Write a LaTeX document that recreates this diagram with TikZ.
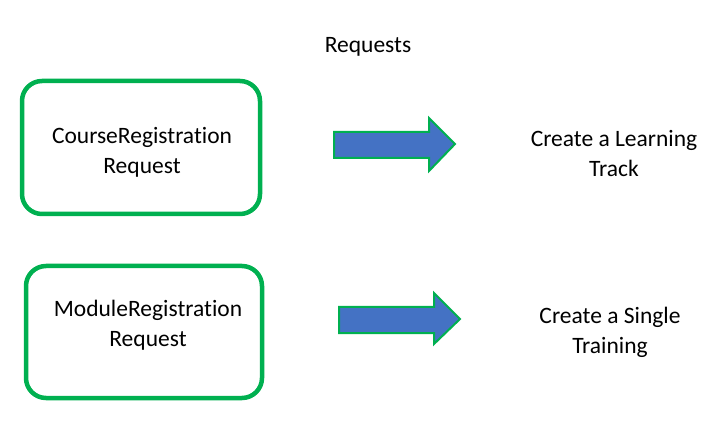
\documentclass[tikz,border=0pt]{standalone}
\usepackage{fontspec}
\setmainfont{Carlito}[Ligatures=NoCommon]
\definecolor{boxgreen}{HTML}{00B050}
\definecolor{arrowblue}{HTML}{4472C4}
\begin{document}
\begin{tikzpicture}[x=1bp,y=-1bp,
  reqbox/.style={draw=boxgreen,line width=4.5bp,rounded corners=20bp},
  bigarrow/.style={draw=boxgreen,fill=arrowblue,line width=2bp,line join=miter},
  lbl/.style={font=\fontsize{23.5bp}{30bp}\selectfont,align=center,inner sep=0pt}]
\useasboundingbox (0,0) rectangle (723,447);
\node[lbl] (title) at (368,47) {Requests};
\draw[reqbox] (22,81) rectangle (260,214);
\draw[reqbox] (26,266) rectangle (262,398);
\node[lbl] (t1) at (142,152) {CourseRegistration\\Request};
\node[lbl] (t2) at (148,325) {ModuleRegistration\\Request};
\draw[bigarrow] (334,132) -- (429,132) -- (429,118) -- (455,144) -- (429,171) -- (429,158) -- (334,158) -- cycle;
\draw[bigarrow] (339,307) -- (434,307) -- (434,293) -- (460,319) -- (434,344) -- (434,333) -- (339,333) -- cycle;
\node[lbl] (r1) at (614,154) {Create a Learning\\Track};
\node[lbl] (r2) at (610,332) {Create a Single\\Training};
\end{tikzpicture}
\end{document}
